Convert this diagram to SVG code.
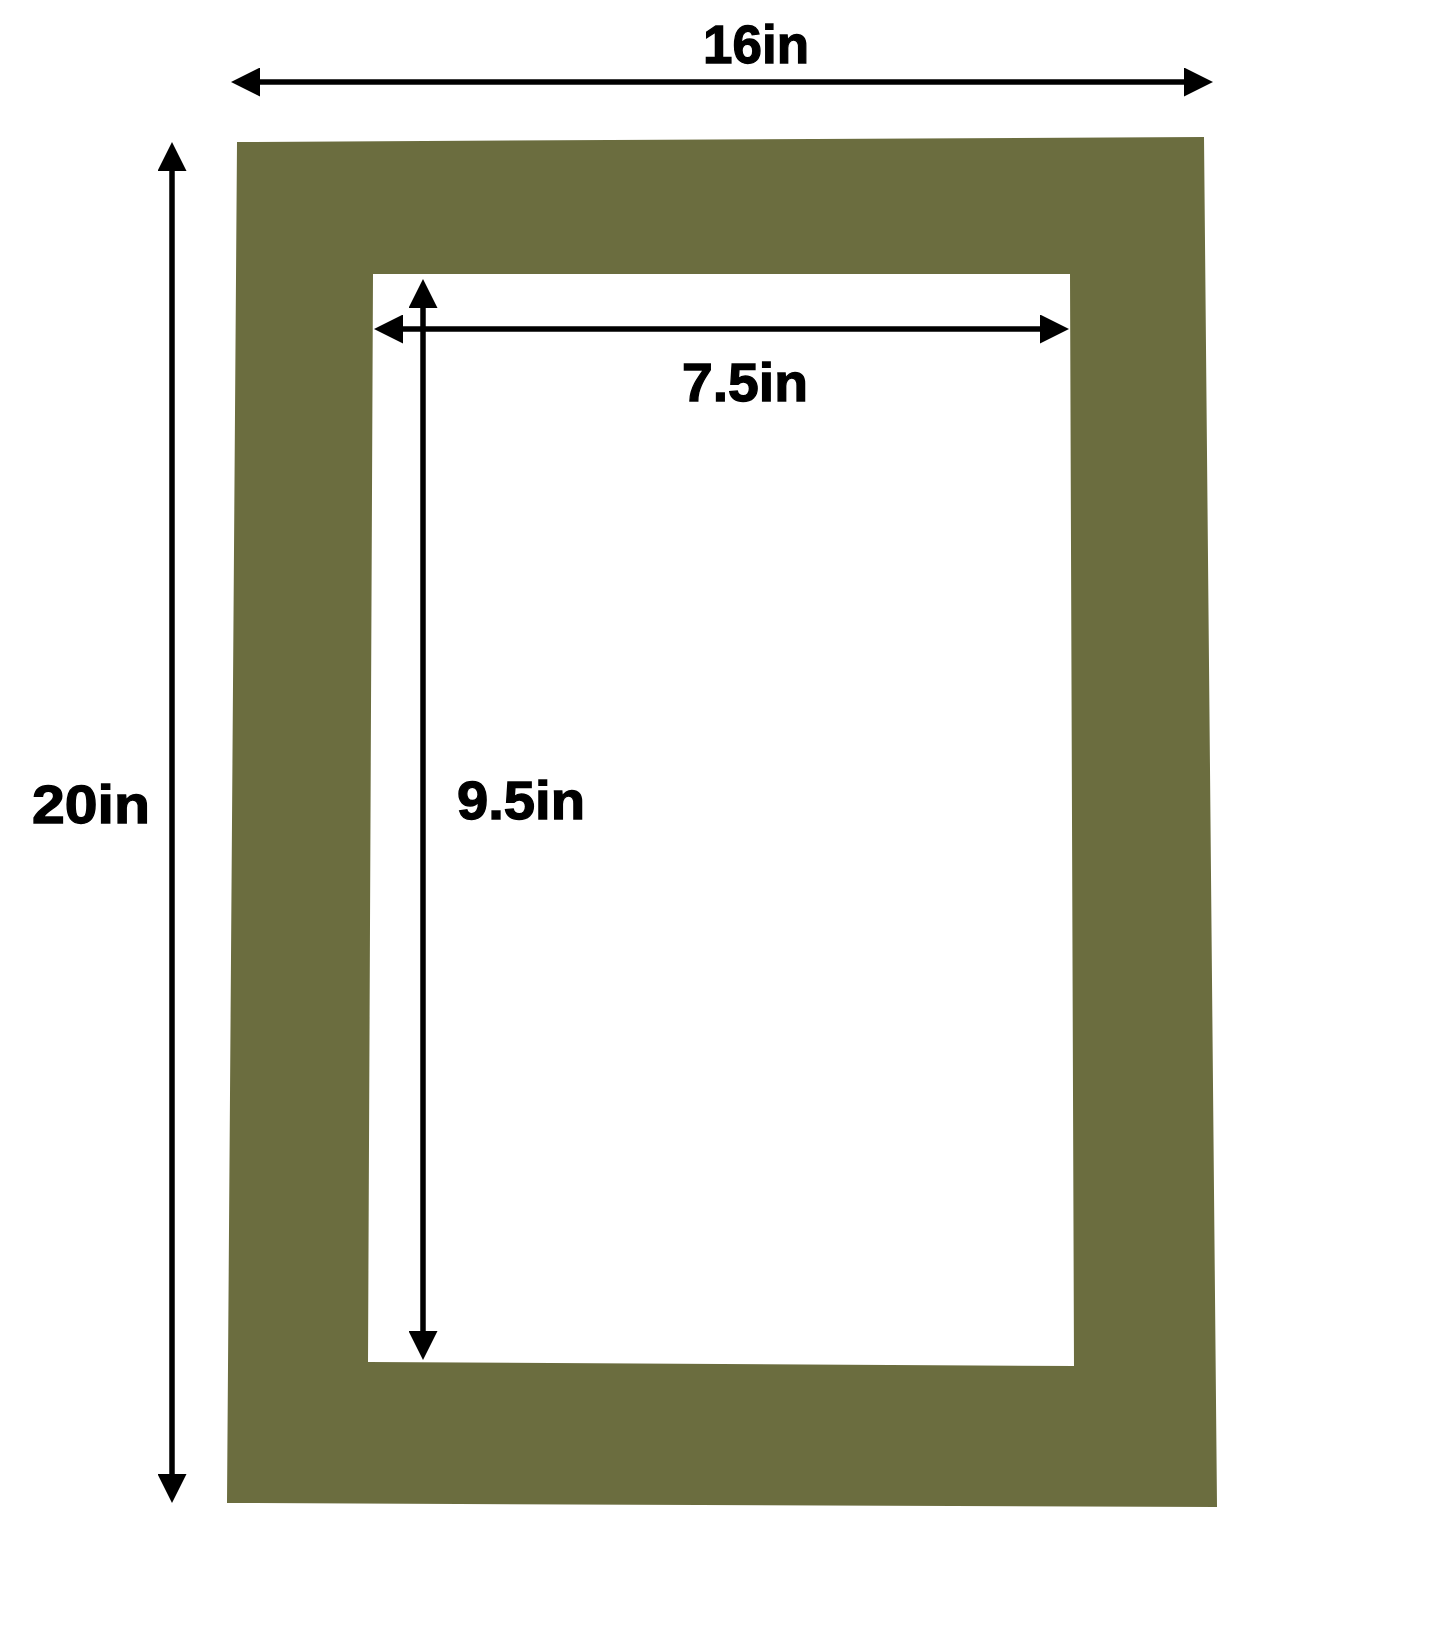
<svg xmlns="http://www.w3.org/2000/svg" width="1445" height="1645" viewBox="0 0 1445 1645">
  <defs>
    <marker id="ah" viewBox="0 0 29 29" markerWidth="29" markerHeight="29" refX="14" refY="14.5" orient="auto-start-reverse" markerUnits="userSpaceOnUse">
      <path d="M0,0 L29,14.5 L0,29 z" fill="#000"/>
    </marker>
  </defs>
  <style>
    .dim { stroke:#000; stroke-width:5.5; fill:none; marker-start:url(#ah); marker-end:url(#ah); }
    .lbl { font-family:"Liberation Sans", Arial, sans-serif; font-weight:bold; font-size:54px; fill:#000; stroke:#000; stroke-width:1.3; }
  </style>
  <rect width="1445" height="1645" fill="#fff"/>
  <g id="mat">
    <path d="M237,142 L1204,137 L1217,1507 L227,1503 Z M373,274 L368,1362 L1074,1366 L1070,274 Z" fill="#6b6d3f" fill-rule="evenodd"/>
  </g>
  <g id="connectors">
    <line class="dim" x1="246" y1="82" x2="1198" y2="82"/>
    <line class="dim" x1="172" y1="157" x2="172" y2="1488"/>
    <line class="dim" x1="389" y1="329" x2="1054" y2="329"/>
    <line class="dim" x1="423" y1="294" x2="423" y2="1345"/>
  </g>
  <g id="label-16in"><text class="lbl" x="703" y="63" textLength="106" lengthAdjust="spacingAndGlyphs">16in</text></g>
  <g id="label-20in"><text class="lbl" x="32" y="823" textLength="118" lengthAdjust="spacingAndGlyphs">20in</text></g>
  <g id="label-7-5in"><text class="lbl" x="682" y="401" textLength="126" lengthAdjust="spacingAndGlyphs">7.5in</text></g>
  <g id="label-9-5in"><text class="lbl" x="457" y="819" textLength="128" lengthAdjust="spacingAndGlyphs">9.5in</text></g>
</svg>
